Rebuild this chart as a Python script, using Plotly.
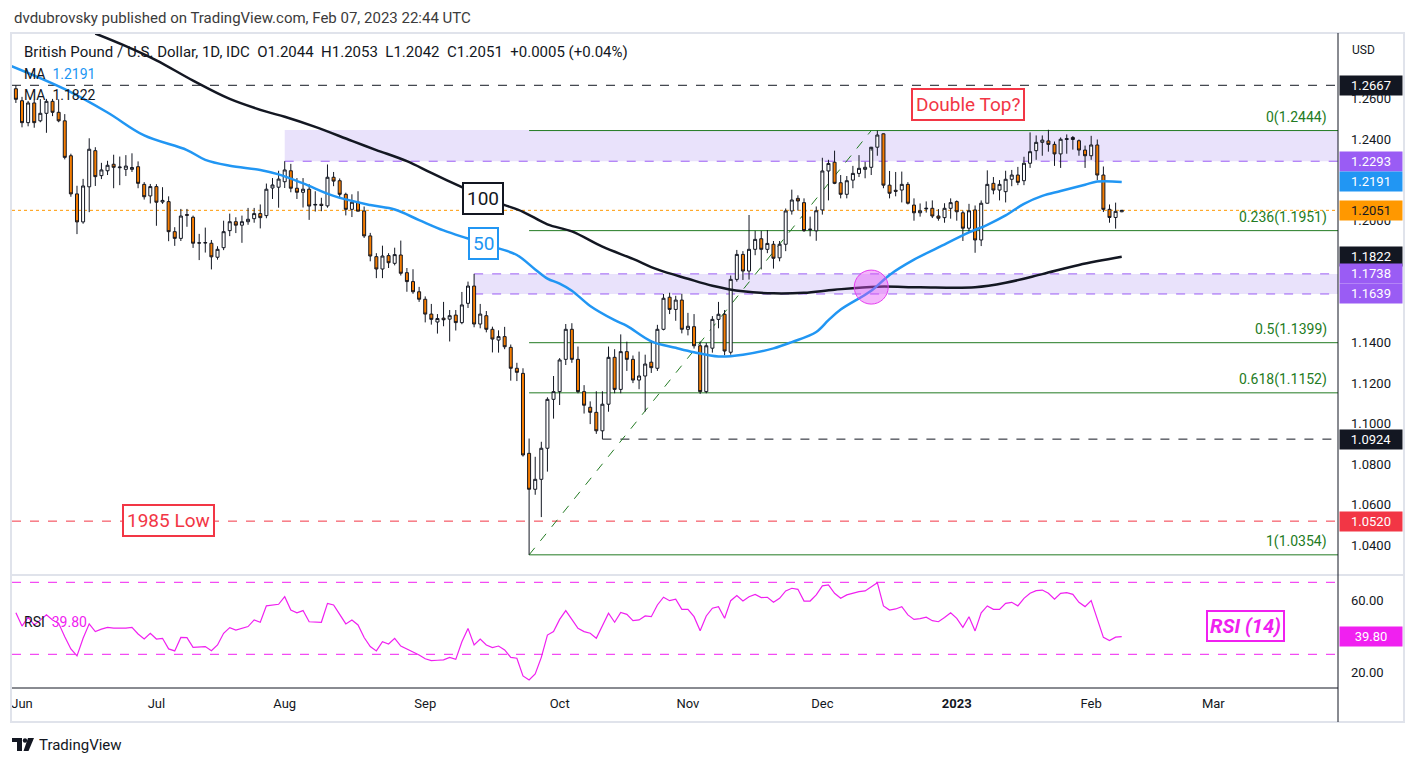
import pandas as pd
import plotly.graph_objects as go

# ---------------- page geometry helpers (pixel -> paper) ----------------
W, H, OFF = 1402, 750, 8
def px(x):
    return (x - OFF) / W
def py(y):
    return 1 - (y - OFF) / H

# ---------------- data ----------------
dates = [d + " 12:00" for d in pd.bdate_range("2022-05-31", "2023-02-08").strftime("%Y-%m-%d")]

opens = [1.2650,
 1.2591,1.2483,1.2580,1.2492,1.2529,1.2588,1.2534,1.2492,1.2320,1.2132,
 1.1994,1.2167,1.2345,1.2222,1.2246,1.2278,1.2261,1.2253,1.2253,1.2266,
 1.2179,1.2122,1.2168,1.2092,1.2094,1.1946,1.1913,1.2030,1.2017,1.1891,
 1.1890,1.1889,1.1820,1.1867,1.1951,1.1995,1.1978,1.1995,1.2010,1.2035,
 1.2025,1.2161,1.2165,1.2192,1.2246,1.2160,1.2140,1.2155,1.2077,1.2081,
 1.2073,1.2214,1.2197,1.2130,1.2056,1.2091,1.2048,1.1925,1.1823,1.1762,
 1.1828,1.1790,1.1831,1.1744,1.1700,1.1650,1.1613,1.1540,1.1501,1.1520,
 1.1515,1.1535,1.1498,1.1593,1.1678,1.1491,1.1532,1.1465,1.1412,1.1429,
 1.1376,1.1273,1.1248,1.0854,1.0677,1.0726,1.0879,1.1120,1.1158,1.1317,
 1.1465,1.1317,1.1158,1.1081,1.1056,1.0965,1.1096,1.1327,1.1169,1.1355,
 1.1317,1.1215,1.1235,1.1303,1.1273,1.1465,1.1623,1.1563,1.1609,1.1465,
 1.1478,1.1384,1.1158,1.1372,1.1514,1.1539,1.1352,1.1711,1.1834,1.1752,
 1.1859,1.1911,1.1859,1.1884,1.1817,1.1884,1.2048,1.2110,1.2089,1.1955,
 1.1950,1.2053,1.2245,1.2288,1.2187,1.2130,1.2200,1.2233,1.2253,1.2263,
 1.2362,1.2428,1.2175,1.2150,1.2151,1.2179,1.2077,1.2039,1.2058,1.2061,
 1.2023,1.2015,1.2061,1.2094,1.2039,1.1963,1.2053,1.1905,1.2086,1.2184,
 1.2151,1.2143,1.2204,1.2225,1.2197,1.2283,1.2345,1.2386,1.2393,1.2376,
 1.2329,1.2400,1.2410,1.2394,1.2348,1.2320,1.2373,1.2225,1.2056,1.2016,
 1.2044]

highs = [1.2667,
 1.2610,1.2590,1.2596,1.2599,1.2600,1.2600,1.2598,1.2525,1.2330,1.2172,
 1.2206,1.2406,1.2362,1.2285,1.2295,1.2325,1.2316,1.2323,1.2332,1.2292,
 1.2190,1.2181,1.2180,1.2165,1.2120,1.1968,1.2058,1.2058,1.2025,1.1935,
 1.1966,1.1905,1.1874,1.2000,1.2035,1.2017,1.2025,1.2063,1.2063,1.2080,
 1.2183,1.2210,1.2246,1.2293,1.2280,1.2210,1.2210,1.2180,1.2145,1.2113,
 1.2277,1.2240,1.2208,1.2138,1.2130,1.2145,1.2070,1.1940,1.1840,1.1877,
 1.1840,1.1867,1.1902,1.1767,1.1761,1.1674,1.1627,1.1590,1.1540,1.1600,
 1.1560,1.1560,1.1649,1.1700,1.1738,1.1590,1.1555,1.1478,1.1460,1.1477,
 1.1390,1.1300,1.1273,1.0927,1.0837,1.0911,1.1130,1.1235,1.1323,1.1491,
 1.1495,1.1380,1.1190,1.1110,1.1160,1.1160,1.1380,1.1367,1.1440,1.1404,
 1.1336,1.1355,1.1340,1.1410,1.1487,1.1639,1.1645,1.1630,1.1640,1.1546,
 1.1540,1.1405,1.1398,1.1530,1.1600,1.1560,1.1730,1.1856,1.1850,1.2028,
 1.1950,1.1950,1.1954,1.1900,1.1900,1.2060,1.2153,1.2125,1.2110,1.2020,
 1.2070,1.2310,1.2300,1.2345,1.2225,1.2220,1.2270,1.2323,1.2290,1.2345,
 1.2444,1.2430,1.2245,1.2240,1.2242,1.2190,1.2110,1.2085,1.2095,1.2100,
 1.2057,1.2086,1.2110,1.2100,1.2050,1.2083,1.2075,1.2100,1.2248,1.2215,
 1.2200,1.2246,1.2250,1.2265,1.2315,1.2435,1.2420,1.2420,1.2448,1.2390,
 1.2410,1.2425,1.2417,1.2400,1.2370,1.2418,1.2400,1.2267,1.2080,1.2089,
 1.2053]

lows = [1.2580,
 1.2460,1.2465,1.2458,1.2485,1.2433,1.2515,1.2485,1.2302,1.2118,1.1934,
 1.1985,1.2042,1.2171,1.2205,1.2225,1.2160,1.2175,1.2220,1.2240,1.2160,
 1.2104,1.2085,1.1975,1.2083,1.1899,1.1876,1.1900,1.1970,1.1866,1.1806,
 1.1843,1.1760,1.1808,1.1855,1.1924,1.1939,1.1891,1.1980,1.1990,1.1962,
 1.2012,1.2107,1.2064,1.2161,1.2140,1.2107,1.2065,1.2004,1.2045,1.2047,
 1.2064,1.2170,1.2110,1.2026,1.2018,1.2046,1.1915,1.1800,1.1717,1.1717,
 1.1767,1.1780,1.1730,1.1650,1.1640,1.1600,1.1499,1.1488,1.1444,1.1480,
 1.1405,1.1459,1.1490,1.1570,1.1475,1.1470,1.1450,1.1351,1.1350,1.1367,
 1.1212,1.1210,1.0838,1.0354,1.0650,1.0540,1.0764,1.1025,1.1092,1.1289,
 1.1300,1.1150,1.1050,1.0998,1.0950,1.0924,1.1059,1.1150,1.1150,1.1260,
 1.1200,1.1170,1.1060,1.1250,1.1260,1.1460,1.1540,1.1507,1.1445,1.1435,
 1.1370,1.1147,1.1150,1.1350,1.1470,1.1337,1.1340,1.1700,1.1708,1.1710,
 1.1830,1.1760,1.1840,1.1764,1.1800,1.1850,1.2030,1.2050,1.1945,1.1923,
 1.1901,1.2030,1.2100,1.2180,1.2110,1.2110,1.2160,1.2215,1.2209,1.2225,
 1.2320,1.2160,1.2110,1.2120,1.2090,1.2080,1.2000,1.2020,1.2040,1.2013,
 1.2000,1.1990,1.2010,1.2000,1.1900,1.1945,1.1842,1.1875,1.2085,1.2130,
 1.2100,1.2090,1.2170,1.2175,1.2175,1.2260,1.2300,1.2320,1.2340,1.2270,
 1.2260,1.2330,1.2350,1.2320,1.2260,1.2300,1.2200,1.2043,1.1990,1.1961,
 1.2042]

closes = [1.2598,
 1.2483,1.2580,1.2483,1.2529,1.2588,1.2534,1.2492,1.2312,1.2132,1.1994,
 1.2171,1.2352,1.2217,1.2250,1.2273,1.2263,1.2264,1.2269,1.2262,1.2184,
 1.2118,1.2168,1.2091,1.2100,1.1946,1.1913,1.2023,1.2027,1.1889,1.1890,
 1.1892,1.1822,1.1859,1.1946,1.1995,1.1978,1.1995,1.2007,1.2035,1.2015,
 1.2155,1.2176,1.2205,1.2250,1.2160,1.2140,1.2155,1.2072,1.2080,1.2075,
 1.2214,1.2195,1.2130,1.2056,1.2091,1.2047,1.1925,1.1826,1.1762,1.1826,
 1.1793,1.1833,1.1741,1.1700,1.1650,1.1613,1.1540,1.1514,1.1518,1.1512,
 1.1532,1.1498,1.1585,1.1678,1.1491,1.1540,1.1465,1.1417,1.1429,1.1379,
 1.1273,1.1253,1.0846,1.0677,1.0726,1.0879,1.1120,1.1158,1.1314,1.1465,
 1.1317,1.1158,1.1091,1.1056,1.0965,1.1096,1.1327,1.1169,1.1355,1.1317,
 1.1215,1.1235,1.1294,1.1276,1.1465,1.1618,1.1563,1.1609,1.1465,1.1480,
 1.1384,1.1158,1.1384,1.1514,1.1539,1.1358,1.1711,1.1834,1.1752,1.1859,
 1.1908,1.1859,1.1888,1.1815,1.1884,1.2048,1.2102,1.2097,1.1951,1.1958,
 1.2049,1.2245,1.2282,1.2184,1.2130,1.2197,1.2233,1.2258,1.2263,1.2362,
 1.2422,1.2175,1.2135,1.2145,1.2179,1.2086,1.2039,1.2049,1.2061,1.2023,
 1.2012,1.2061,1.2089,1.2044,1.1963,1.2049,1.1905,1.2086,1.2179,1.2151,
 1.2179,1.2204,1.2225,1.2189,1.2283,1.2340,1.2386,1.2397,1.2376,1.2329,
 1.2401,1.2404,1.2400,1.2348,1.2320,1.2373,1.2225,1.2056,1.2016,1.2046,
 1.2051]

rsi_vals = [53.1,
 45.7,50.6,46.3,49.0,51.9,49.1,47.2,39.8,33.0,29.1,
 38.9,46.9,42.6,44.0,45.0,44.5,44.4,44.6,45.0,41.3,
 38.5,41.7,38.5,38.9,33.0,31.9,39.4,39.3,33.9,34.0,
 34.3,32.0,35.2,41.7,44.8,43.5,44.5,45.4,49.1,47.8,
 56.9,57.4,57.8,62.0,54.6,53.1,54.3,48.1,48.0,47.8,
 58.3,57.4,52.2,46.9,49.1,46.3,39.3,34.3,31.9,37.0,
 35.7,38.9,34.6,33.0,31.5,29.6,27.5,26.5,26.7,26.9,
 28.3,27.2,37.0,44.4,35.2,38.5,35.2,33.7,34.6,32.4,
 28.3,27.8,18.0,15.7,19.1,28.3,40.7,42.6,49.4,54.3,
 49.4,44.4,42.6,41.7,38.9,46.3,52.8,47.8,53.3,52.2,
 48.7,49.1,51.3,50.9,57.4,61.7,59.8,60.6,55.0,55.0,
 50.9,43.1,51.3,55.6,56.5,50.0,59.8,62.6,59.6,62.0,
 63.3,61.5,61.7,58.9,61.1,65.2,66.7,66.1,59.6,59.6,
 63.0,68.0,68.5,63.9,61.1,63.0,63.9,64.8,65.2,67.6,
 69.8,56.9,54.6,55.2,56.5,51.9,49.4,49.8,50.6,48.7,
 48.1,50.4,53.1,50.0,45.0,50.9,43.0,53.1,56.9,55.0,
 55.0,58.3,58.9,56.9,61.1,63.9,65.4,65.7,63.9,60.6,
 63.9,64.3,63.3,58.9,56.5,59.8,50.0,39.4,37.6,39.5,
 39.8]

ma50_dates = ["2022-05-30","2022-06-10","2022-06-21","2022-06-29","2022-07-08","2022-07-13",
 "2022-07-19","2022-07-26","2022-07-29","2022-08-04","2022-08-11","2022-08-19","2022-08-25",
 "2022-08-31","2022-09-06","2022-09-12","2022-09-19","2022-09-22","2022-09-27","2022-09-29",
 "2022-10-03","2022-10-05","2022-10-10","2022-10-14","2022-10-18","2022-10-24","2022-10-28",
 "2022-11-02","2022-11-08","2022-11-14","2022-11-21","2022-11-24","2022-11-30","2022-12-02",
 "2022-12-06","2022-12-13","2022-12-16","2022-12-22","2022-12-28","2023-01-04","2023-01-09",
 "2023-01-12","2023-01-17","2023-01-20","2023-01-25","2023-01-31","2023-02-02","2023-02-08"]
ma50_vals = [1.2765,1.2648,1.2533,1.2420,1.2348,1.2300,
 1.2271,1.2250,1.2228,1.2184,1.2122,1.2077,1.2055,
 1.2003,1.1952,1.1912,1.1864,1.1831,1.1760,1.1715,
 1.1690,1.1655,1.1580,1.1510,1.1482,1.1406,1.1374,
 1.1352,1.1331,1.1340,1.1371,1.1402,1.1452,1.1510,
 1.1562,1.1655,1.1733,1.1808,1.1868,1.1942,1.1980,
 1.2026,1.2083,1.2122,1.2146,1.2177,1.2193,1.2191]

ma100_dates = ["2022-06-17","2022-06-24","2022-07-01","2022-07-11","2022-07-19","2022-07-27",
 "2022-08-01","2022-08-08","2022-08-16","2022-08-22","2022-08-29","2022-09-02","2022-09-09",
 "2022-09-15","2022-09-20","2022-09-23","2022-09-29","2022-10-05","2022-10-12","2022-10-19",
 "2022-10-25","2022-11-01","2022-11-07","2022-11-14","2022-11-21","2022-11-28","2022-12-05",
 "2022-12-14","2022-12-23","2023-01-05","2023-01-12","2023-01-20","2023-01-30","2023-02-08"]
ma100_vals = [1.2922,1.2860,1.2790,1.2690,1.2600,1.2537,
 1.2512,1.2462,1.2393,1.2348,1.2293,1.2235,1.2165,
 1.2110,1.2077,1.2044,1.1982,1.1947,1.1872,1.1812,
 1.1760,1.1714,1.1680,1.1652,1.1642,1.1645,1.1660,
 1.1675,1.1672,1.1672,1.1694,1.1737,1.1782,1.1822]

# key levels / drawings
top_level = 1.2667
upper_zone = (1.2293, 1.2447)
upper_zone_start = "2022-08-01"
lower_zone = (1.1639, 1.1738)
lower_zone_start = "2022-09-13"
fib_ratios = ["0", "0.236", "0.5", "0.618", "1"]
fib_prices = [1.2444, 1.1951, 1.1399, 1.1152, 1.0354]
fib_start, fib_end = "2022-09-26", "2022-12-13"
support_level, support_start = 1.0924, "2022-10-12"
low_1985 = 1.0520
last_price = 1.2051
ma50_last, ma100_last = 1.2191, 1.1822
rsi_last = 39.80
cross_date, cross_price = "2022-12-13", 1.1673

price_ticks = [1.26, 1.24, 1.20, 1.14, 1.12, 1.10, 1.08, 1.06, 1.04]
rsi_ticks = [20, 60]
month_ticks = ["2022-06-01","2022-07-01","2022-08-01","2022-09-01","2022-10-03","2022-11-01",
               "2022-12-01","2023-01-02","2023-02-01","2023-03-01"]
month_labels = ["Jun","Jul","Aug","Sep","Oct","Nov","Dec","<b>2023</b>","Feb","Mar"]

X_START, X_END = "2022-05-30 20:43", "2023-03-29 21:36"
Y_RANGE = [1.02547, 1.29246]
RSI_RANGE = [11.28, 74.06]

# colours
TXT = "#131722"
ORANGE = "#f57c00"
BLUE = "#2196f3"
MAG = "#f020f0"
GREEN = "#237b23"
RED = "#f23645"
PURPLE = "#9a5cf4"
ZONE = "#e9e2fb"
GRAYLINE = "#e0e3eb"
FONT = "Roboto, Arial, sans-serif"

def noon(d):
    return d + " 12:00"

fig = go.Figure()

fig.add_trace(go.Candlestick(
    x=dates, open=opens, high=highs, low=lows, close=closes,
    increasing=dict(line=dict(color=TXT, width=1), fillcolor="#ffffff"),
    decreasing=dict(line=dict(color=TXT, width=1), fillcolor=ORANGE),
    whiskerwidth=0, xaxis="x", yaxis="y", hoverinfo="skip", showlegend=False))

fig.add_trace(go.Scatter(x=[noon(d) for d in ma100_dates], y=ma100_vals, mode="lines",
                         line=dict(color=TXT, width=2.5, shape="spline"),
                         xaxis="x", yaxis="y", hoverinfo="skip", showlegend=False))
fig.add_trace(go.Scatter(x=[noon(d) for d in ma50_dates], y=ma50_vals, mode="lines",
                         line=dict(color=BLUE, width=2.5, shape="spline"),
                         xaxis="x", yaxis="y", hoverinfo="skip", showlegend=False))
fig.add_trace(go.Scatter(x=dates, y=rsi_vals, mode="lines",
                         line=dict(color=MAG, width=1.2),
                         xaxis="x2", yaxis="y2", hoverinfo="skip", showlegend=False))

shapes = []
# zones
shapes.append(dict(type="rect", xref="x", yref="y", x0=noon(upper_zone_start), x1=X_END,
                   y0=upper_zone[0], y1=upper_zone[1], fillcolor=ZONE, line=dict(width=0), layer="below"))
shapes.append(dict(type="line", xref="x", yref="y", x0=noon(upper_zone_start), x1=X_END,
                   y0=upper_zone[0], y1=upper_zone[0], line=dict(color=PURPLE, width=1, dash="dash"), layer="below"))
shapes.append(dict(type="rect", xref="x", yref="y", x0=noon(lower_zone_start), x1=X_END,
                   y0=lower_zone[0], y1=lower_zone[1], fillcolor=ZONE, line=dict(width=0), layer="below"))
for v in lower_zone:
    shapes.append(dict(type="line", xref="x", yref="y", x0=noon(lower_zone_start), x1=X_END,
                       y0=v, y1=v, line=dict(color=PURPLE, width=1, dash="dash"), layer="below"))
# full-width levels
shapes.append(dict(type="line", xref="x domain", yref="y", x0=0, x1=1, y0=top_level, y1=top_level,
                   line=dict(color=TXT, width=1, dash="dash"), layer="below"))
shapes.append(dict(type="line", xref="x domain", yref="y", x0=0, x1=1, y0=low_1985, y1=low_1985,
                   line=dict(color=RED, width=1, dash="dash"), layer="below"))
shapes.append(dict(type="line", xref="x domain", yref="y", x0=0, x1=1, y0=last_price, y1=last_price,
                   line=dict(color="#ff9800", width=1, dash="dot"), layer="below"))
shapes.append(dict(type="line", xref="x", yref="y", x0=noon(support_start), x1=X_END,
                   y0=support_level, y1=support_level, line=dict(color=TXT, width=1, dash="dash"), layer="below"))
# fib
for p in fib_prices:
    shapes.append(dict(type="line", xref="x", yref="y", x0=noon(fib_start), x1=X_END, y0=p, y1=p,
                       line=dict(color=GREEN, width=1), layer="below"))
shapes.append(dict(type="line", xref="x", yref="y", x0=noon(fib_start), x1=noon(fib_end),
                   y0=fib_prices[-1], y1=fib_prices[0], line=dict(color=GREEN, width=1, dash="dash"), layer="below"))
# crossover circle
shapes.append(dict(type="circle", xref="x", yref="y", xsizemode="pixel", ysizemode="pixel",
                   xanchor=noon(cross_date), yanchor=cross_price, x0=-17, x1=17, y0=-17, y1=17,
                   fillcolor="rgba(228, 80, 245, 0.42)", line=dict(color="#e53ef0", width=1)))
# rsi bands
for v in (70, 30):
    shapes.append(dict(type="line", xref="x2 domain", yref="y2", x0=0, x1=1, y0=v, y1=v,
                       line=dict(color=MAG, width=1, dash="dash"), layer="below"))
# frame
shapes.append(dict(type="rect", xref="paper", yref="paper", x0=px(11), x1=px(1404), y0=py(722), y1=py(33),
                   line=dict(color=GRAYLINE, width=2), fillcolor="rgba(0,0,0,0)", layer="above"))
shapes.append(dict(type="line", xref="paper", yref="paper", x0=px(12), x1=px(1404), y0=py(575), y1=py(575),
                   line=dict(color=GRAYLINE, width=2)))
shapes.append(dict(type="line", xref="paper", yref="paper", x0=px(1338), x1=px(1338), y0=py(722), y1=py(33),
                   line=dict(color=TXT, width=1)))
shapes.append(dict(type="line", xref="paper", yref="paper", x0=px(12), x1=px(1338), y0=py(688), y1=py(688),
                   line=dict(color=TXT, width=1)))
# TradingView logo glyph
shapes.append(dict(type="rect", xref="paper", yref="paper", x0=px(12), x1=px(22), y0=py(742), y1=py(738),
                   fillcolor=TXT, line=dict(width=0)))
shapes.append(dict(type="rect", xref="paper", yref="paper", x0=px(17), x1=px(22), y0=py(751), y1=py(738),
                   fillcolor=TXT, line=dict(width=0)))
shapes.append(dict(type="circle", xref="paper", yref="paper", x0=px(22.8), x1=px(27.2), y0=py(742.7), y1=py(738.3),
                   fillcolor=TXT, line=dict(width=0)))
shapes.append(dict(type="path", xref="paper", yref="paper",
                   path=f"M {px(28)},{py(738)} L {px(34)},{py(738)} L {px(28.5)},{py(751)} L {px(23.5)},{py(751)} Z",
                   fillcolor=TXT, line=dict(width=0)))

ann = []
def axis_label(val, text, bg, fg="#ffffff", yref="y"):
    ann.append(dict(xref="paper", yref=yref, x=px(1339), y=val, xanchor="left", yanchor="middle",
                    text=text, showarrow=False, bgcolor=bg, width=60, height=17, align="center",
                    font=dict(family=FONT, size=13, color=fg)))

axis_label(top_level, f"{top_level:.4f}", TXT)
axis_label(upper_zone[0], f"{upper_zone[0]:.4f}", PURPLE)
axis_label(ma50_last, f"{ma50_last:.4f}", BLUE)
axis_label(last_price, f"{last_price:.4f}", "#ff9800", TXT)
axis_label(ma100_last, f"{ma100_last:.4f}", TXT)
axis_label(lower_zone[1], f"{lower_zone[1]:.4f}", PURPLE)
axis_label(lower_zone[0], f"{lower_zone[0]:.4f}", PURPLE)
axis_label(support_level, f"{support_level:.4f}", TXT)
axis_label(low_1985, f"{low_1985:.4f}", RED)
axis_label(rsi_last, f"{rsi_last:.2f}", MAG, yref="y2")

for r, p in zip(fib_ratios, fib_prices):
    ann.append(dict(xref="paper", yref="y", x=px(1329), y=p, xanchor="right", yanchor="bottom", yshift=3,
                    text=f"{r}({p:.4f})", showarrow=False, font=dict(family=FONT, size=14, color=GREEN)))

def boxed(x, y, text, color, size=19, italic=False, pad=3):
    t = f"<i><b>{text}</b></i>" if italic else text
    ann.append(dict(xref="paper", yref="paper", x=px(x), y=py(y), xanchor="center", yanchor="middle",
                    text=t, showarrow=False, bgcolor="#ffffff", bordercolor=color, borderwidth=2, borderpad=pad,
                    font=dict(family=FONT, size=size, color=color)))

boxed(968, 104, "Double Top?", RED)
boxed(483, 198, "100", TXT)
boxed(483, 243, "50", BLUE)
boxed(168, 520, "1985 Low", RED)
boxed(1245, 626, "RSI (14)", MAG, size=20, italic=True, pad=2)

def text(x, y, t, size=14, color=TXT, anchor="left"):
    ann.append(dict(xref="paper", yref="paper", x=px(x), y=py(y), xanchor=anchor, yanchor="middle",
                    text=t, showarrow=False, font=dict(family=FONT, size=size, color=color)))

nb = "\u00a0"
text(12, 18, "dvdubrovsky published on TradingView.com, Feb 07, 2023 22:44 UTC", 15, "#3b3b3b")
text(22, 52, f"British Pound / U.S. Dollar, 1D, IDC{nb}{nb}O1.2044{nb}{nb}H1.2053{nb}{nb}L1.2042{nb}{nb}"
             f"C1.2051{nb}{nb}+0.0005 (+0.04%)", 15)
text(22, 74, f"MA{nb}{nb}<span style='color:{BLUE}'>{ma50_last:.4f}</span>", 14)
text(22, 95, f"MA{nb}{nb}<span style='color:{TXT}'>{ma100_last:.4f}</span>", 14)
text(22, 622, f"RSI{nb}{nb}<span style='color:{MAG}'>{rsi_last:.2f}</span>", 14)
text(1350, 50, "USD", 12)
text(37, 745, "TradingView", 15)

fig.update_layout(
    width=W, height=H, margin=dict(l=0, r=0, t=0, b=0),
    paper_bgcolor="#ffffff", plot_bgcolor="#ffffff",
    showlegend=False, hovermode=False,
    font=dict(family=FONT, color=TXT),
    xaxis=dict(type="date", domain=[px(12), px(1338)], range=[X_START, X_END], anchor="y",
               rangebreaks=[dict(bounds=["sat", "mon"])], rangeslider=dict(visible=False),
               showticklabels=False, showgrid=False, zeroline=False, ticks=""),
    xaxis2=dict(type="date", domain=[px(12), px(1338)], range=[X_START, X_END], anchor="y2", matches="x",
                rangebreaks=[dict(bounds=["sat", "mon"])], showgrid=False, zeroline=False, ticks="",
                tickvals=[noon(d) for d in month_ticks], ticktext=month_labels,
                tickfont=dict(family=FONT, size=13, color=TXT), ticklabelstandoff=6),
    yaxis=dict(domain=[py(575), py(33)], range=Y_RANGE, side="right", anchor="x",
               tickvals=price_ticks, ticktext=[f"{v:.4f}" for v in price_ticks],
               showgrid=False, zeroline=False, ticks="", ticklabelstandoff=12,
               tickfont=dict(family=FONT, size=13, color=TXT)),
    yaxis2=dict(domain=[py(688), py(575)], range=RSI_RANGE, side="right", anchor="x2",
                tickvals=rsi_ticks, ticktext=[f"{v:.2f}" for v in rsi_ticks],
                showgrid=False, zeroline=False, ticks="", ticklabelstandoff=12,
                tickfont=dict(family=FONT, size=13, color=TXT)),
    shapes=shapes, annotations=ann,
)

fig.write_html("out.html")
